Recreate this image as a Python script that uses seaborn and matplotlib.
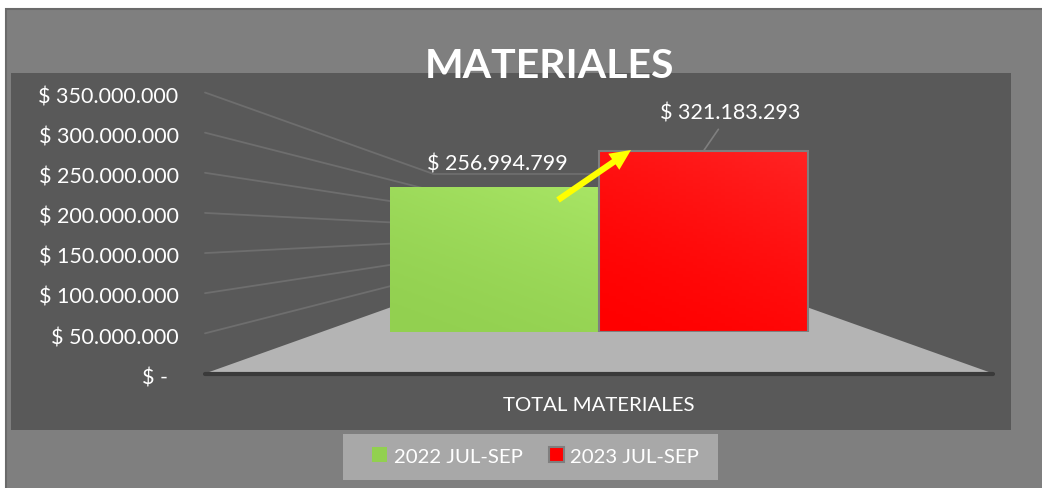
import matplotlib
matplotlib.use("Agg")
import matplotlib.pyplot as plt
from matplotlib.patches import Rectangle
from matplotlib.transforms import ScaledTranslation
import numpy as np
import pandas as pd
import seaborn as sns

W, H = 1042, 489

title = "MATERIALES"
categories = ["TOTAL MATERIALES"]
periods = ["2022 JUL-SEP", "2023 JUL-SEP"]
values = [256994799, 321183293]
colors = ["#92D050", "#FF0000"]
y_ticks = [0, 50000000, 100000000, 150000000, 200000000, 250000000, 300000000, 350000000]
y_labels = ["$ -  ", "$ 50.000.000", "$ 100.000.000", "$ 150.000.000", "$ 200.000.000",
            "$ 250.000.000", "$ 300.000.000", "$ 350.000.000"]


def px_axes(fig, left, right, top, bottom):
    return fig.add_axes([left / W, 1 - bottom / H, (right - left) / W, (bottom - top) / H])


def px_rect(fig, left, right, top, bottom, **kw):
    fig.add_artist(Rectangle((left / W, 1 - bottom / H), (right - left) / W, (bottom - top) / H,
                             transform=fig.transFigure, **kw))


def gradient_fill(ax, bar, start, end):
    # diagonal shading, lighter towards the upper right
    x0, y0 = bar.get_x(), bar.get_y()
    x1, y1 = x0 + bar.get_width(), y0 + bar.get_height()
    u, v = np.meshgrid(np.linspace(0, 1, 60), np.linspace(1, 0, 60))
    t = ((u * 0.35 + v * 0.65) ** 1.5)[..., None]
    rgb = (1 - t) * np.array(matplotlib.colors.to_rgb(start)) + t * np.array(matplotlib.colors.to_rgb(end))
    im = ax.imshow(rgb, extent=(x0, x1, y0, y1), aspect="auto", zorder=bar.get_zorder() + 0.1)
    im.set_clip_path(bar)


def main():
    sns.set_style("white")
    plt.rcParams["font.family"] = ["Lato", "DejaVu Sans"]
    fig = plt.figure(figsize=(W / 100, H / 100), dpi=100, facecolor="white")

    # chart frame, plot area and legend box
    px_rect(fig, 6, 1060, 10, 500, facecolor="#7F7F7F", edgecolor="#6A6A6A", linewidth=1.5, zorder=-3)
    px_rect(fig, 11, 1011, 73.7, 430.7, facecolor="#595959", edgecolor="none", zorder=-2)
    px_rect(fig, 343, 718, 434.7, 480.7, facecolor="#A8A8A8", edgecolor="none", zorder=-1)

    # front plane of the 3D box: ticks, floor and left wall lines
    front = px_axes(fig, 205, 993, 93.5, 374.5)
    front.patch.set_alpha(0)
    front.set_xlim(0, 1)
    front.set_ylim(0, 350000000)
    sns.despine(ax=front, left=True, bottom=True, top=True, right=True)
    mid = 175000000
    depth = 0.29
    back = lambda v: mid + (v - mid) * (1 - 2 * depth)
    front.fill([0, depth, 1 - depth, 1], [0, back(0), back(0), 0], color="#B4B4B4", lw=0, clip_on=False)
    for v in y_ticks[1:]:
        front.plot([0, depth, 0.5], [v, back(v), back(v)], color="#6E6E6E", lw=1.3, clip_on=False)
    front.plot([0, 1], [0, 0], color="#3A3A3A", lw=3, clip_on=False, solid_capstyle="round")
    front.set_yticks(y_ticks, y_labels)
    front.set_xticks([0.5], categories)
    front.tick_params(axis="y", length=0, pad=19, labelsize=15.5, labelcolor="white")
    front.tick_params(axis="x", length=0, pad=16.5, labelsize=14.7, labelcolor="white")
    nudge = ScaledTranslation(0, -1.2 / 72, fig.dpi_scale_trans)
    for lab in front.get_yticklabels():
        lab.set_transform(lab.get_transform() + nudge)

    # bars stand further back, so their scale is smaller
    ax = px_axes(fig, 320, 878, 135.5, 333)
    ax.patch.set_alpha(0)
    df = pd.DataFrame({"Rubro": categories * 2, "Periodo": periods, "Valor": values})
    sns.barplot(data=df, x="Rubro", y="Valor", hue="Periodo", palette=colors, width=0.75, gap=0,
                saturation=1, edgecolor="none", ax=ax)
    ax.set_xlim(-0.5, 0.5)
    ax.set_ylim(0, 350000000)
    ax.set_axis_off()
    ends = ["#A8E565", "#FF2424"]
    bars = list(ax.patches)
    for bar, c, e in zip(bars, colors, ends):
        bar.set_zorder(3)
        gradient_fill(ax, bar, c, e)
    ax.set_xlim(-0.5, 0.5)
    ax.set_ylim(0, 350000000)
    red = bars[1]
    ax.add_patch(Rectangle((red.get_x(), 0), red.get_width(), red.get_height(), fill=False,
                           edgecolor="#7F7F7F", lw=1.5, zorder=4))

    def money(v):
        return "$ " + f"{v:,.0f}".replace(",", ".")

    ax.annotate(money(values[0]), xy=(bars[0].get_x() + bars[0].get_width() / 2, values[0]),
                xytext=(2, 17), textcoords="offset points", ha="center", va="center",
                color="white", fontsize=15.5)
    ax.annotate(money(values[1]), xy=(red.get_x() + red.get_width() / 2, values[1]),
                xytext=(19, 27.5), textcoords="offset points", ha="center", va="center",
                color="white", fontsize=15.5,
                arrowprops=dict(arrowstyle="-", color="#7F7F7F", lw=1.2, shrinkA=3, shrinkB=0,
                                relpos=(0.45, 0)))

    # yellow arrow between the two bars
    ax.annotate("", xy=(631 / W, 1 - 151 / H), xytext=(558 / W, 1 - 201 / H),
                xycoords="figure fraction", textcoords="figure fraction", annotation_clip=False,
                arrowprops=dict(facecolor="#FFFF00", edgecolor="none", width=4.5, headwidth=14,
                                headlength=15, shrink=0), zorder=6)

    handles, labels = ax.get_legend_handles_labels()
    leg = ax.legend(handles, labels, loc="center", bbox_to_anchor=(535.5 / W, 1 - 457 / H),
                    bbox_transform=fig.transFigure, ncol=2, frameon=False, fontsize=14.7,
                    handlelength=0.74, handleheight=0.74, handletextpad=0.33, columnspacing=1.28,
                    borderpad=0, borderaxespad=0)
    for t in leg.get_texts():
        t.set_color("white")
    leg.legend_handles[1].set_edgecolor("#7F7F7F")
    leg.legend_handles[1].set_linewidth(1.5)

    fig.text(550 / W, 1 - 66 / H, title, ha="center", va="center", color="white",
             fontsize=29.5, fontweight="bold", zorder=10)

    fig.savefig("out.png", dpi=100)


if __name__ == "__main__":
    main()
